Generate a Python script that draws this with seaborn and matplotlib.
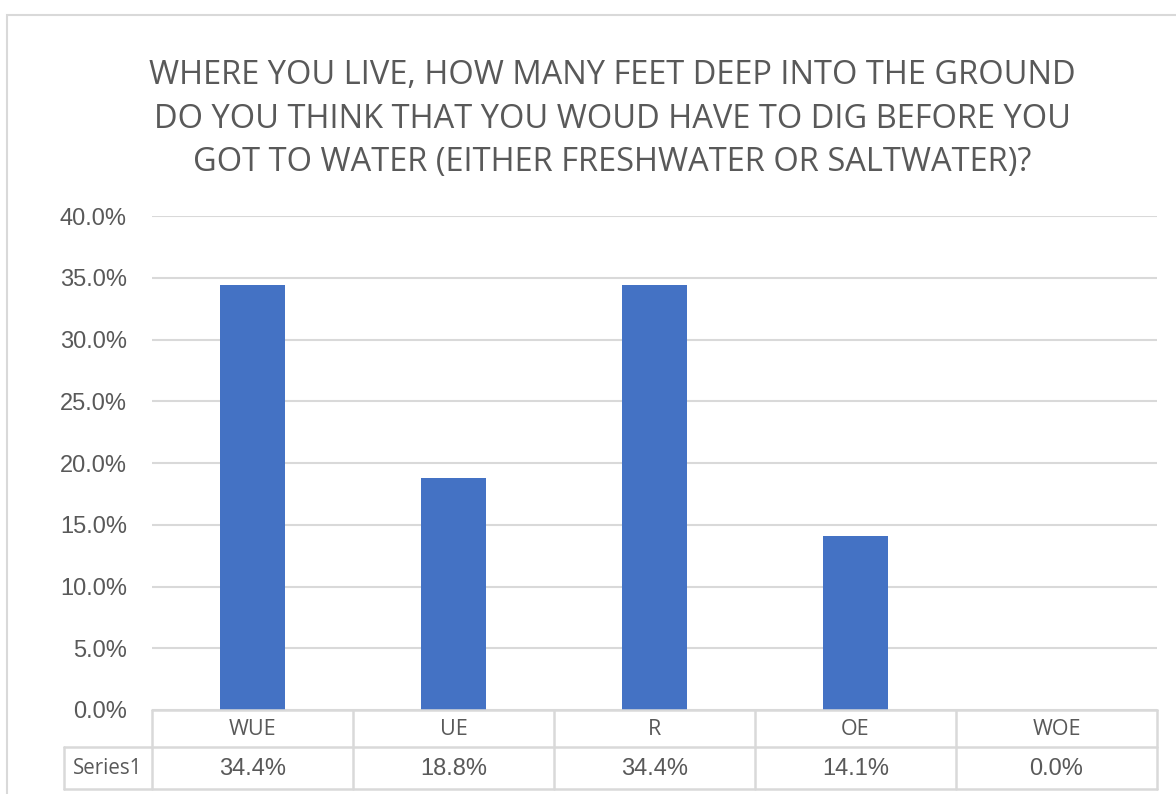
import matplotlib
matplotlib.use("Agg")
import matplotlib.pyplot as plt
from matplotlib.patches import Rectangle
from matplotlib.lines import Line2D
import seaborn as sns
import pandas as pd

# Survey answers
categories = ["WUE", "UE", "R", "OE", "WOE"]
shares = [34.4, 18.8, 34.4, 14.1, 0.0]
series_name = "Series1"
y_ticks = [0, 5, 10, 15, 20, 25, 30, 35, 40]
title_lines = [
    "WHERE YOU LIVE, HOW MANY FEET DEEP INTO THE GROUND",
    "DO YOU THINK THAT YOU WOUD HAVE TO DIG BEFORE YOU",
    "GOT TO WATER (EITHER FRESHWATER OR SALTWATER)?",
]

BAR = "#4472C4"
GRID = "#d9d9d9"
TEXT = "#595959"
TITLE_FONT = ["Open Sans", "DejaVu Sans"]
NUM_FONT = ["Liberation Sans", "DejaVu Sans"]

sns.set_theme(style="white")
W, H = 1176, 794
fig = plt.figure(figsize=(W / 100, H / 100), dpi=100)
fig.patch.set_facecolor("white")

# chart frame (extends past the right/bottom edges)
fig.add_artist(Rectangle((7 / W, -0.1), 1.2, 1.1 - 15 / H, transform=fig.transFigure,
                         fill=False, edgecolor=GRID, linewidth=1.5))

left, right, top, bottom = 152 / W, 1157 / W, 216 / H, 710 / H
ax = fig.add_axes([left, 1 - bottom, right - left, bottom - top])

df = pd.DataFrame({"cat": categories, "val": shares})
sns.barplot(data=df, x="cat", y="val", color=BAR, width=0.32, ax=ax,
            saturation=1, edgecolor="none")
ax.set_xlim(-0.5, len(categories) - 0.5)
ax.set_ylim(0, 40)
ax.set_yticks(y_ticks)
ax.set_yticklabels([f"{t:.1f}%" for t in y_ticks], fontsize=17, color=TEXT,
                   family=NUM_FONT)
ax.set_xticks([])
ax.set_xlabel("")
ax.set_ylabel("")
ax.tick_params(axis="y", length=0, pad=18)
ax.grid(axis="y", color=GRID, linewidth=1.5)
ax.set_axisbelow(True)
for s in ax.spines.values():
    s.set_visible(False)


# data table below the plot area (pixel rows/columns mapped to axes fractions)
def ay(py):
    return 1 - (py - 216) / (710 - 216)


def ax_x(px):
    return (px - 152) / (1157 - 152)


row_top, row_mid, row_bot = 710, 747, 789
lines = [
    ((ax_x(152), ax_x(1157)), (ay(row_top), ay(row_top))),
    ((ax_x(64), ax_x(1157)), (ay(row_mid), ay(row_mid))),
    ((ax_x(64), ax_x(1157)), (ay(row_bot), ay(row_bot))),
    ((ax_x(64), ax_x(64)), (ay(row_mid), ay(row_bot))),
]
for i in range(len(categories) + 1):
    xx = ax_x(152 + i * (1157 - 152) / len(categories))
    lines.append(((xx, xx), (ay(row_top), ay(row_bot))))
for xs, ys in lines:
    ax.add_line(Line2D(xs, ys, transform=ax.transAxes, color=GRID,
                       linewidth=1.8, clip_on=False))

tr = ax.get_xaxis_transform()
for i, (c, v) in enumerate(zip(categories, shares)):
    ax.text(i, ay((row_top + row_mid) / 2 + 1), c, transform=tr, ha="center",
            va="center", fontsize=15.5, color=TEXT, family=TITLE_FONT)
    ax.text(i, ay((row_mid + row_bot) / 2 + 1), f"{v:.1f}%", transform=tr,
            ha="center", va="center", fontsize=17, color=TEXT, family=NUM_FONT)
ax.text(ax_x(108), ay((row_mid + row_bot) / 2 + 1), series_name,
        transform=ax.transAxes, ha="center", va="center", fontsize=14.8,
        color=TEXT, family=TITLE_FONT)

for k, line in enumerate(title_lines):
    fig.text(612 / W, 1 - (75 + 44 * k) / H, line, ha="center", va="center",
             fontsize=23.5, color=TEXT, family=TITLE_FONT)

fig.savefig("out.png", dpi=100, facecolor="white")
